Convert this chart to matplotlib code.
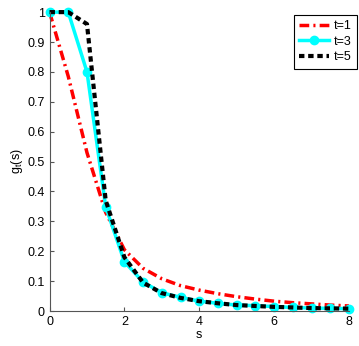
import numpy as np
import matplotlib
matplotlib.use('Agg')
import matplotlib.pyplot as plt

plt.rcParams['font.family'] = ['Liberation Sans', 'DejaVu Sans']

s = [0, 0.5, 1, 1.5, 2, 2.5, 3, 3.5, 4, 4.5, 5, 5.5, 6, 6.5, 7, 7.5, 8]
g_t1 = [1.0, 0.785, 0.53, 0.33, 0.205, 0.143, 0.108, 0.085, 0.07, 0.058,
        0.048, 0.04, 0.033, 0.028, 0.024, 0.02, 0.017]
g_t3 = [1.0, 1.0, 0.80, 0.349, 0.165, 0.097, 0.061, 0.046, 0.033, 0.026,
        0.02, 0.018, 0.015, 0.012, 0.010, 0.009, 0.008]
g_t5 = [1.0, 1.0, 0.96, 0.37, 0.18, 0.095, 0.06, 0.044, 0.033, 0.026,
        0.02, 0.017, 0.014, 0.012, 0.010, 0.009, 0.008]
labels = ['t=1', 't=3', 't=5']

fig = plt.figure(figsize=(3.59, 3.46), dpi=100)
ax = fig.add_axes([0.138, 0.101, 0.834, 0.864])

ax.plot(s, g_t1, color='red', lw=2.5, dashes=(2.8, 1.2, 0.6, 1.2), label=labels[0], clip_on=False)
ax.plot(s, g_t3, color='cyan', lw=2.5, marker='o', markersize=6, label=labels[1], clip_on=False)
ax.plot(s, g_t5, color='black', lw=3, dashes=(1.3, 0.9), label=labels[2], clip_on=False)

ax.set_xlim(0, 8)
ax.set_ylim(0, 1)
ax.set_xticks([0, 2, 4, 6, 8])
ax.set_yticks(np.arange(0, 1.01, 0.1))
ax.set_yticklabels(['0', '0.1', '0.2', '0.3', '0.4', '0.5', '0.6', '0.7', '0.8', '0.9', '1'])
ax.tick_params(direction='in', length=3, labelsize=9, color='#555555')
ax.spines['top'].set_visible(False)
ax.spines['right'].set_visible(False)
for sp in ['left', 'bottom']:
    ax.spines[sp].set_color('#555555')
ax.set_xlabel('s', fontsize=9, labelpad=1)
ax.set_ylabel(r'g$_\mathregular{t}$(s)', fontsize=9, labelpad=2)

leg = ax.legend(loc='upper right', bbox_to_anchor=(357 / 359, 1 - 15 / 346),
                bbox_transform=fig.transFigure, fontsize=9, fancybox=False,
                framealpha=1, edgecolor='black', handlelength=2.4,
                handletextpad=0.45, borderaxespad=0, labelspacing=0.3,
                borderpad=0.4)
leg.get_frame().set_linewidth(0.8)

fig.savefig('out.png', dpi=100)
